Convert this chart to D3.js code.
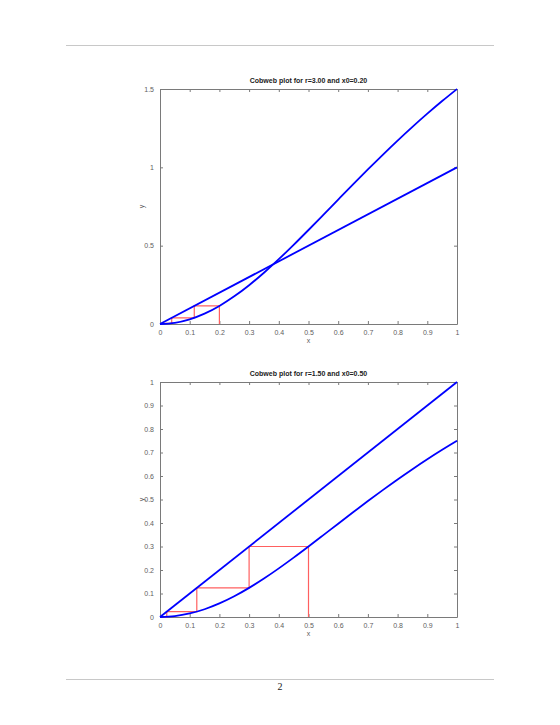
<!DOCTYPE html>
<html><head><meta charset="utf-8">
<script src="https://cdn.jsdelivr.net/npm/d3@7"></script>
<style>body{margin:0;background:#fff}</style>
</head><body>
<script>
// Sampled map curve x values
const curveX = [0,0.05,0.1,0.15,0.2,0.25,0.3,0.35,0.4,0.45,0.5,0.55,0.6,0.65,0.7,0.75,0.8,0.85,0.9,0.95,1];
// Plot 1 (r=3.00): map curve values
const curve1Y = [0,0.0075,0.0297,0.0660,0.1154,0.1765,0.2477,0.3274,0.4138,0.5052,0.6,0.6967,0.7941,0.8910,0.9866,1.08,1.1707,1.2583,1.3425,1.4231,1.5];
// Plot 2 (r=1.50): map curve values
const curve2Y = [0,0.0037,0.0149,0.0330,0.0577,0.0882,0.1239,0.1637,0.2069,0.2526,0.3,0.3484,0.3971,0.4455,0.4933,0.54,0.5854,0.6292,0.6713,0.7116,0.75];
// Diagonal y = x
const diagX = [0,1];
const diagY = [0,1];
// Cobweb iterates
const cob1X = [0.2,0.2,0.1154,0.1154,0.0394,0.0394,0.0047,0.0047,0.0001];
const cob1Y = [0,0.1154,0.1154,0.0394,0.0394,0.0047,0.0047,0.0001,0.0001];
const cob2X = [0.5,0.5,0.3,0.3,0.1239,0.1239,0.0228,0.0228,0.0008];
const cob2Y = [0,0.3,0.3,0.1239,0.1239,0.0228,0.0228,0.0008,0.0008];
// Ticks
const xTicks = [0,0.1,0.2,0.3,0.4,0.5,0.6,0.7,0.8,0.9,1];
const xTickLabels = ["0","0.1","0.2","0.3","0.4","0.5","0.6","0.7","0.8","0.9","1"];
const y1Ticks = [0,0.5,1,1.5];
const y1TickLabels = ["0","0.5","1","1.5"];
const y2Ticks = [0,0.1,0.2,0.3,0.4,0.5,0.6,0.7,0.8,0.9,1];
const y2TickLabels = ["0","0.1","0.2","0.3","0.4","0.5","0.6","0.7","0.8","0.9","1"];
const titles = ["Cobweb plot for r=3.00 and x0=0.20","Cobweb plot for r=1.50 and x0=0.50"];

const W = 560, H = 725;
const svg = d3.select("body").append("svg").attr("width", W).attr("height", H)
  .style("font-family", "Helvetica, Arial, 'Liberation Sans', sans-serif");

// page rules
svg.append("line").attr("x1",66).attr("x2",494).attr("y1",45.5).attr("y2",45.5).attr("stroke","#c8c8c8").attr("stroke-width",1);
svg.append("line").attr("x1",66).attr("x2",494).attr("y1",679.5).attr("y2",679.5).attr("stroke","#c8c8c8").attr("stroke-width",1);
svg.append("text").attr("x",280).attr("y",690).attr("text-anchor","middle")
  .attr("font-family","'Liberation Serif','DejaVu Serif',serif").attr("font-size",10).attr("fill","#222").text("2");

function plot(opts){
  const {top, bottom, yMax, yTicks, yLabels, cy, cx, cyy, title} = opts;
  const left = 160, right = 457;
  const x = d3.scaleLinear().domain([0,1]).range([left,right]);
  const y = d3.scaleLinear().domain([0,yMax]).range([bottom,top]);
  const g = svg.append("g");
  const axisColor = "#7a7a7a";
  const textColor = "#606060";
  const tickLen = 3;

  const fmtX = (d,i) => xTickLabels[i];
  const fmtY = (d,i) => yLabels[i];
  const ax = g.append("g").attr("transform",`translate(0,${bottom})`)
    .call(d3.axisBottom(x).tickValues(xTicks).tickFormat(fmtX).tickSizeInner(-tickLen).tickSizeOuter(0).tickPadding(6));
  const axT = g.append("g").attr("transform",`translate(0,${top})`)
    .call(d3.axisTop(x).tickValues(xTicks).tickFormat("").tickSizeInner(-tickLen).tickSizeOuter(0));
  const ay = g.append("g").attr("transform",`translate(${left},0)`)
    .call(d3.axisLeft(y).tickValues(yTicks).tickFormat(fmtY).tickSizeInner(-tickLen).tickSizeOuter(0).tickPadding(6));
  const ayR = g.append("g").attr("transform",`translate(${right},0)`)
    .call(d3.axisRight(y).tickValues(yTicks).tickFormat("").tickSizeInner(-tickLen).tickSizeOuter(0));
  [ax,axT,ay,ayR].forEach(a=>{
    a.attr("font-family", null).attr("font-size", null);
    a.select(".domain").attr("stroke",axisColor).attr("stroke-width",1);
    a.selectAll(".tick line").attr("stroke",axisColor);
    a.selectAll(".tick text").attr("fill",textColor).attr("font-size",7);
  });

  const line = d3.line().x(d=>x(d[0])).y(d=>y(d[1]));
  // cobweb
  g.append("path").datum(cx.map((v,i)=>[v,cyy[i]])).attr("d",line)
    .attr("fill","none").attr("stroke","#ff6060").attr("stroke-width",1.2);
  // diagonal
  g.append("path").datum(diagX.map((v,i)=>[v,diagY[i]])).attr("d",line)
    .attr("fill","none").attr("stroke","#0000ff").attr("stroke-width",1.8);
  // curve
  g.append("path").datum(curveX.map((v,i)=>[v,cy[i]])).attr("d",d3.line().x(d=>x(d[0])).y(d=>y(d[1])).curve(d3.curveMonotoneX))
    .attr("fill","none").attr("stroke","#0000ff").attr("stroke-width",1.8);

  g.append("text").attr("x",(left+right)/2).attr("y",top-6).attr("text-anchor","middle")
    .attr("font-size",7).attr("font-weight","bold").attr("fill","#222").text(title);
  g.append("text").attr("x",(left+right)/2).attr("y",bottom+19).attr("text-anchor","middle")
    .attr("font-size",7).attr("fill",textColor).text("x");
  g.append("text").attr("transform",`translate(144,${(top+bottom)/2}) rotate(-90)`).attr("text-anchor","middle")
    .attr("font-size",7).attr("fill",textColor).text("y");
}

plot({top:89, bottom:324, yMax:1.5, yTicks:y1Ticks, yLabels:y1TickLabels, cy:curve1Y, cx:cob1X, cyy:cob1Y, title:titles[0]});
plot({top:382, bottom:617, yMax:1, yTicks:y2Ticks, yLabels:y2TickLabels, cy:curve2Y, cx:cob2X, cyy:cob2Y, title:titles[1]});
</script>
</body></html>
